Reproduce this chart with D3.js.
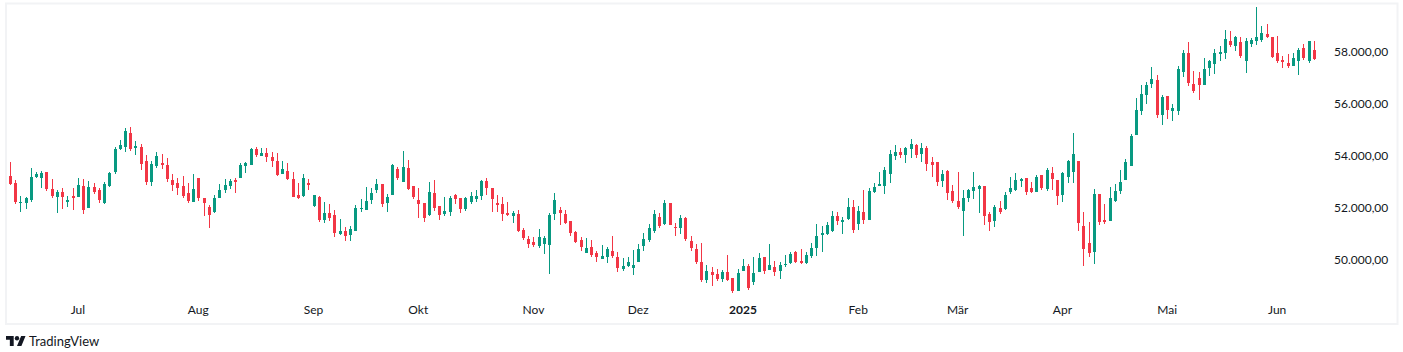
<!DOCTYPE html>
<html><head><meta charset="utf-8">
<script src="https://cdn.jsdelivr.net/npm/d3@7/dist/d3.min.js"></script>
<style>html,body{margin:0;padding:0;background:#fff}svg{display:block}text{font-family:Lato,"Open Sans",sans-serif}</style>
</head><body><svg id="c" width="1403" height="352"></svg>
<script>
const highs=[53150,53730,53040,52420,52380,53500,53350,53380,53350,53080,
52650,52730,52420,52730,53120,53080,53000,52920,52730,52960,
53350,54310,54580,55040,55080,54540,54420,54000,53770,54120,
54040,53880,53270,53120,53190,52920,53270,53120,52350,52080,
52460,52880,53080,53080,53120,53690,53730,54270,54310,54270,
54270,54120,54080,53770,53690,53350,52920,53270,53080,52460,
52420,52190,52120,51880,51540,51230,51270,52080,52310,52770,
52730,53080,52880,52500,53650,53540,54150,53810,52810,52730,
52150,52960,53040,52040,52380,52420,52500,52350,52380,52580,
52650,53040,53120,52730,52460,52380,52190,51850,51880,51190,
50880,50850,51150,50880,51770,52540,52000,51880,51460,51080,
50850,50810,50730,50310,50540,50460,50880,50270,50040,50080,
50350,50580,51000,51350,51880,51770,52270,52150,51380,51690,
51620,50880,50580,50620,49770,49690,49620,49580,50150,49270,
49620,50000,49810,50080,50230,50080,50580,49920,49880,50150,
50270,50310,50380,50270,50620,51350,51270,51420,51850,51810,
51620,52350,52270,52040,52650,52730,52920,53350,53540,54190,
54380,54270,54310,54620,54420,54460,54350,53920,53730,53420,
53420,52850,53350,52650,52690,53350,52850,52810,51810,52080,
52230,52580,53150,53310,53120,53120,52960,53230,53230,53500,
53540,53040,53350,53810,54850,53770,51810,51420,52690,52500,
52120,52770,52880,53420,53850,54810,56190,56690,56810,57380,
57080,56310,56270,55960,57420,58040,58350,57230,57190,57730,
57650,58080,58190,58810,58770,58580,58540,58500,58500,59690,
58960,59040,58540,58580,57810,57880,57920,58120,58270,58120,58380];
const lows=[53040,52850,52120,51810,51920,52190,53120,52730,52620,52350,
51770,51920,52000,51880,52380,51730,51960,52500,52150,52120,
52770,53270,54190,54120,54150,54000,53420,52850,52810,53500,
53460,52960,52620,52460,52350,52150,52190,52230,51650,51190,
51770,52350,52540,52690,52540,53120,53310,53620,53920,53960,
53730,53540,53190,53270,53040,52380,52310,52380,52650,52000,
51420,51380,51460,50850,50920,50690,50690,51080,51810,51880,
52120,52540,52000,51810,52460,53040,52960,52650,52310,51580,
51420,51650,51850,51500,51650,51650,52120,51770,51850,52120,
52190,52270,52460,51810,51810,51460,51650,51380,51040,50730,
50420,50460,50420,50190,49420,51500,51310,51350,50880,50620,
50310,50230,50080,49880,50000,49850,50040,49500,49540,49690,
49380,49880,50310,50650,51000,51190,51310,51310,50880,50960,
50690,50310,49810,49120,49080,48960,49150,49120,49150,48690,
48770,49540,48810,49000,49500,49420,49580,49350,49230,49690,
49810,49850,49810,49810,50040,50120,50270,50920,51040,51310,
50960,51500,51000,51120,51350,51500,52540,52810,52500,52920,
53810,53880,53690,53880,53880,53730,53380,53150,52810,52770,
52270,52150,51920,50880,52190,52310,51770,51310,51080,51230,
51730,51880,52500,52620,52770,52460,52540,52580,52650,52620,
52650,52080,52190,52920,52920,51080,49730,50080,49810,51310,
51350,51460,52190,52500,53040,53580,54770,55540,55960,56580,
55420,55150,55380,55310,55540,57000,56650,56380,56120,56690,
57040,57120,57620,57690,58150,58000,57730,57150,58150,58230,
58350,58500,57730,57540,57350,57350,57420,57080,57650,57540,57650];
const opens=[53150,53190,52920,52150,52150,52270,53150,53120,53350,52690,
52380,52580,52190,52420,52380,52810,51960,52770,52650,52150,
52810,53350,54230,54310,54850,54270,54310,53770,52960,53580,
53690,53620,53040,52920,52810,52540,52190,53120,52350,52000,
51810,52350,52650,52810,53040,53120,53580,53620,54230,53960,
54080,53920,53770,53270,53380,53080,52460,52420,52920,52040,
52380,51500,51770,51690,50960,51080,50920,51080,51920,51880,
52270,52650,52880,52150,52460,53460,52960,53500,52810,52270,
52150,51690,52540,52040,51730,51810,52460,52350,51920,52190,
52310,52420,53000,52730,52150,52120,51770,51650,51730,51120,
50770,50650,50500,50580,50540,51730,51880,51730,51460,51040,
50730,50230,50460,50230,50000,50080,50310,50080,49620,49730,
49650,49880,50500,50730,51080,51620,51350,52150,51230,51190,
51580,50690,50380,49880,49190,49500,49420,49230,49500,49270,
48770,49540,49730,49120,49500,50080,49580,49690,49540,49770,
49850,50270,49920,49850,50120,50420,50920,50960,51080,51650,
51420,51540,52000,51350,51810,51500,52580,52810,52810,53270,
53960,54120,54000,54230,54380,54040,54270,53730,53730,53000,
53380,52620,52230,51850,52350,52620,52690,52810,51730,51460,
51960,51920,52580,52650,53000,53120,52730,52580,53230,52690,
53310,53040,52460,53150,53350,53770,51270,50620,50270,52500,
51500,51460,52230,52620,53040,53580,54770,55690,56310,56730,
56880,55540,56270,55690,55690,57190,57920,56730,56960,56690,
57350,57500,57880,57920,58380,58190,58350,57620,58270,58380,
58420,58650,58540,57920,57650,57540,57420,57620,58120,57620,58040];
const closes=[53040,52880,52190,52190,52350,53150,53270,53310,52690,52420,
52580,52380,52270,52350,52850,51880,52770,52580,52270,52880,
53310,54230,54380,54920,54230,54350,53650,52960,53650,53960,
53620,53080,52850,52730,52420,52230,52690,52350,52150,51690,
52350,52650,52850,53000,52960,53620,53690,54230,54000,54080,
53920,53770,53230,53460,53080,52380,52350,53120,52850,52460,
51500,51770,51580,51000,51080,50880,51150,51960,51960,52230,
52540,52880,52120,52380,53620,53120,53540,52690,52380,52120,
51580,52580,51960,51690,51850,52350,52310,51920,52350,52420,
52420,53000,52730,52310,52080,51730,51690,51770,51080,50810,
50580,50540,50850,50810,51690,52270,51770,51380,51000,50650,
50460,50420,50150,50080,50120,50380,50120,49650,49730,49880,
49770,50380,50770,51190,51730,51270,52150,51310,51190,51580,
50770,50420,49880,49190,49540,49380,49230,49500,49190,48770,
49460,49730,48880,49460,50040,49540,49770,49500,49770,49810,
50190,49880,49850,50150,50420,50880,51000,51310,51650,51460,
51500,52000,51120,51850,51500,52620,52770,52880,53420,54040,
54120,54000,54270,54420,54000,54270,53650,53620,52960,53270,
52540,52230,52000,52350,52650,52770,52810,51650,51420,52000,
51810,52460,52730,53040,53080,52580,52580,53150,52730,53420,
53080,52420,53310,53770,54040,51380,50380,50230,52500,51420,
51420,52350,52620,52960,53730,54730,55730,56350,56690,56920,
55540,56230,55730,55810,57310,57920,56770,56460,56690,57310,
57620,57920,57960,58460,58230,58540,57810,58380,58420,58540,
58690,58540,57770,57620,57580,57420,57730,58040,57730,58380,57690];
const yTicks=[58000,56000,54000,52000,50000];
const monthLabels=["Jul","Aug","Sep","Okt","Nov","Dez","2025","Feb","Mär","Apr","Mai","Jun"];
const monthIndex=[14,37,59,79,101,121,141,163,182,202,222,243];

const UP="#089981",DOWN="#F23645",TEXT="#131722",FRAME="#f2f3f5";
const svg=d3.select("#c");
const x=d3.scaleLinear().domain([0,250]).range([5.06,1314.3]);
const y=d3.scaleLinear().domain([58000,50000]).range([51,259]);
const Y=v=>Math.round(y(v));
const de=d3.formatLocale({decimal:",",thousands:".",grouping:[3],currency:["",""]});
const candles=d3.range(opens.length);

svg.append("rect").attr("x",6).attr("y",3.5).attr("width",1391.5).attr("height",320.5)
 .attr("fill","#fff").attr("stroke",FRAME).attr("stroke-width",2);
svg.append("clipPath").attr("id","pane").append("rect").attr("x",7).attr("y",5).attr("width",1390).attr("height",318);
const g=svg.append("g").attr("clip-path","url(#pane)").attr("shape-rendering","crispEdges");
const col=i=>closes[i]<opens[i]?DOWN:UP;
g.selectAll("rect.w").data(candles).join("rect").attr("class","w")
 .attr("x",i=>Math.floor(x(i))).attr("width",1)
 .attr("y",i=>Y(highs[i])).attr("height",i=>Math.max(1,Y(lows[i])-Y(highs[i]))).attr("fill",col);
g.selectAll("rect.b").data(candles).join("rect").attr("class","b")
 .attr("x",i=>Math.floor(x(i))-1).attr("width",3)
 .attr("y",i=>Y(Math.max(opens[i],closes[i])))
 .attr("height",i=>Math.max(1,Y(Math.min(opens[i],closes[i]))-Y(Math.max(opens[i],closes[i])))).attr("fill",col);

const ax=svg.append("g").attr("transform","translate(1334,1)")
 .call(d3.axisRight(y).tickValues(yTicks).tickSize(0).tickPadding(0).tickFormat(de.format(",.2f")));
ax.select(".domain").remove();
ax.selectAll("text").attr("fill",TEXT).attr("font-size",12).attr("font-family","Lato");
const bx=svg.append("g").attr("transform","translate(-1,305)")
 .call(d3.axisBottom(x).tickValues(monthIndex).tickSize(0).tickPadding(0).tickFormat((d,i)=>monthLabels[i]));
bx.select(".domain").remove();
bx.selectAll("text").attr("fill",TEXT).attr("font-size",12).attr("font-family","Lato")
 .attr("font-weight",(d,i)=>monthLabels[i]==="2025"?700:400);

const logo=svg.append("g").attr("transform","translate(6,333.8) scale(0.55)").attr("fill","#131722");
logo.append("path").attr("d","M14 22H7V11H0V4h14v18zM28 22h-8l7.5-18h8L28 22z");
logo.append("circle").attr("cx",20).attr("cy",8).attr("r",4);
svg.append("text").attr("x",29).attr("y",346).attr("font-size",13).attr("fill","#131722").text("TradingView");
</script></body></html>
